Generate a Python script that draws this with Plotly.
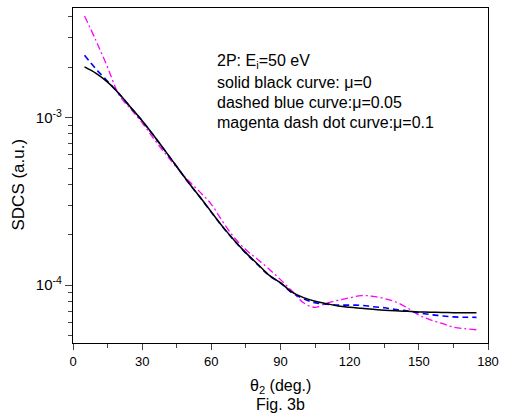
import plotly.graph_objects as go

theta = [5, 10, 15, 20, 25, 30, 35, 40, 45, 50, 55, 60, 65, 70, 75, 80, 85, 90,
         95, 100, 105, 110, 115, 120, 125, 130, 135, 140, 145, 150, 155, 160,
         165, 170, 175]

sdcs_mu0 = [2.01e-3, 1.84e-3, 1.63e-3, 1.39e-3, 1.156e-3, 9.59e-4, 7.83e-4,
            6.34e-4, 5.11e-4, 4.12e-4, 3.37e-4, 2.74e-4, 2.23e-4, 1.85e-4,
            1.56e-4, 1.34e-4, 1.15e-4, 1.035e-4, 9.10e-5, 8.43e-5, 8.02e-5,
            7.76e-5, 7.52e-5, 7.38e-5, 7.28e-5, 7.18e-5, 7.10e-5, 7.03e-5,
            6.98e-5, 6.93e-5, 6.90e-5, 6.87e-5, 6.86e-5, 6.84e-5, 6.84e-5]

sdcs_mu005 = [2.36e-3, 1.95e-3, 1.65e-3, 1.39e-3, 1.15e-3, 9.57e-4, 7.82e-4,
              6.33e-4, 5.10e-4, 4.11e-4, 3.36e-4, 2.73e-4, 2.22e-4, 1.84e-4,
              1.55e-4, 1.33e-4, 1.145e-4, 1.03e-4, 9.00e-5, 8.30e-5, 7.85e-5,
              7.71e-5, 7.62e-5, 7.60e-5, 7.59e-5, 7.45e-5, 7.33e-5, 7.16e-5,
              7.02e-5, 6.84e-5, 6.68e-5, 6.56e-5, 6.47e-5, 6.44e-5, 6.43e-5]

sdcs_mu01 = [4.05e-3, 2.88e-3, 2.00e-3, 1.365e-3, 1.127e-3, 9.33e-4, 7.50e-4,
             6.12e-4, 5.04e-4, 4.22e-4, 3.61e-4, 3.04e-4, 2.39e-4, 1.92e-4,
             1.63e-4, 1.43e-4, 1.25e-4, 1.08e-4, 9.23e-5, 7.85e-5, 7.38e-5,
             7.82e-5, 8.13e-5, 8.41e-5, 8.67e-5, 8.59e-5, 8.32e-5, 7.94e-5,
             7.33e-5, 6.64e-5, 6.21e-5, 5.92e-5, 5.62e-5, 5.50e-5, 5.42e-5]

x_ticks = [0, 30, 60, 90, 120, 150, 180]
x_minor = [15, 45, 75, 105, 135, 165]
y_ticks = [1e-4, 1e-3]
y_ticktext = ["10<sup>-4</sup>", "10<sup>-3</sup>"]
y_minor = [5e-5, 6e-5, 7e-5, 8e-5, 9e-5, 2e-4, 3e-4, 4e-4, 5e-4, 6e-4, 7e-4,
           8e-4, 9e-4, 2e-3, 3e-3, 4e-3]

info_lines = ["2P: E<sub>i</sub>=50 eV",
              "solid black curve: \u03bc=0",
              "dashed blue curve:\u03bc=0.05",
              "magenta dash dot curve:\u03bc=0.1"]

FONT = "Liberation Sans, Arial, sans-serif"

fig = go.Figure()
fig.add_trace(go.Scatter(x=theta, y=sdcs_mu01, mode="lines",
                         line=dict(color="#ff00ff", width=1.3, dash="7px,3px,2px,3px", shape="spline"),
                         showlegend=False))
fig.add_trace(go.Scatter(x=theta, y=sdcs_mu005, mode="lines",
                         line=dict(color="#0000ff", width=1.6, dash="6px,4px", shape="spline"),
                         showlegend=False))
fig.add_trace(go.Scatter(x=theta, y=sdcs_mu0, mode="lines",
                         line=dict(color="black", width=1.5, shape="spline"),
                         showlegend=False))

fig.update_layout(
    width=506, height=419,
    margin=dict(l=73, r=13, t=7, b=76),
    paper_bgcolor="white", plot_bgcolor="white",
    font=dict(family=FONT, color="black"),
    showlegend=False,
)
fig.update_xaxes(
    range=[0, 180], tickvals=x_ticks, ticks="outside", ticklen=6, tickwidth=1.2,
    tickfont=dict(size=13), showline=True, linecolor="black", linewidth=1.3,
    mirror=True, showgrid=False, zeroline=False,
    minor=dict(tickvals=x_minor, ticks="outside", ticklen=3.5, tickwidth=1.2, showgrid=False),
)
fig.update_yaxes(
    type="log", range=[-4.345, -2.345], tickvals=y_ticks, ticktext=y_ticktext,
    ticks="outside", ticklen=7, tickwidth=1.2, tickfont=dict(size=15),
    showline=True, linecolor="black", linewidth=1.3, mirror=True,
    showgrid=False, zeroline=False,
    minor=dict(tickvals=y_minor, ticks="outside", ticklen=3.5, tickwidth=1.2, showgrid=False),
)

line_y = [0.839, 0.777, 0.717, 0.658]
for txt, yy in zip(info_lines, line_y):
    fig.add_annotation(text=txt, xref="paper", yref="paper", x=0.343, y=yy,
                       xanchor="left", yanchor="middle", showarrow=False,
                       font=dict(size=16, family=FONT))

fig.add_annotation(text="SDCS (a.u.)", xref="paper", yref="paper",
                   x=-0.131, y=0.472, textangle=-90, xanchor="center", yanchor="middle",
                   showarrow=False, font=dict(size=17, family=FONT))
fig.add_annotation(text="\u03b8<sub>2</sub> (deg.)", xref="paper", yref="paper",
                   x=0.5, y=-0.131, xanchor="center", yanchor="middle",
                   showarrow=False, font=dict(size=16, family=FONT))
fig.add_annotation(text="Fig. 3b", xref="paper", yref="paper",
                   x=0.5, y=-0.185, xanchor="center", yanchor="middle",
                   showarrow=False, font=dict(size=16, family=FONT))

fig.write_html("out.html", config={"displayModeBar": False},
               post_script="document.body.style.margin='0px';")
